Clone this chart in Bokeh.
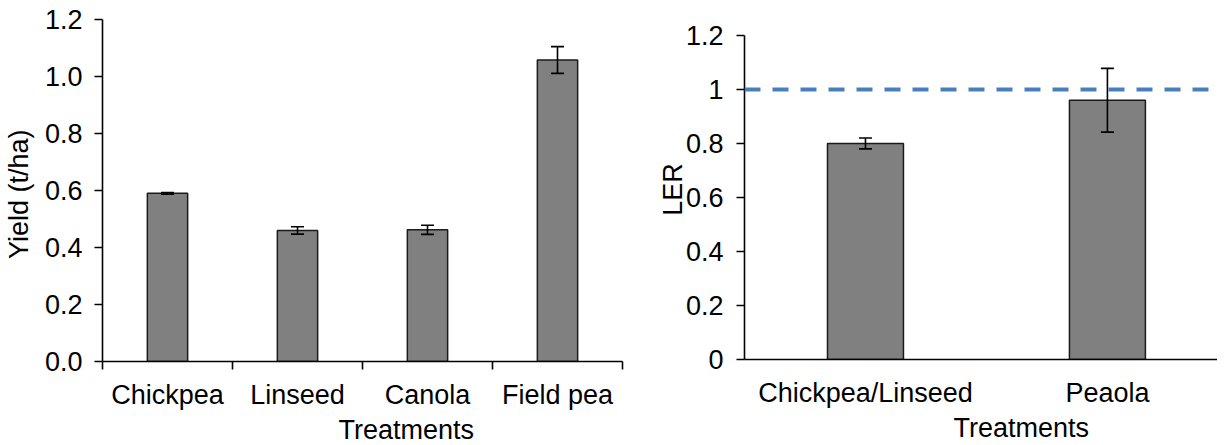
from bokeh.plotting import figure
from bokeh.layouts import row
from bokeh.models import (Range1d, FixedTicker, CustomJSTickFormatter,
                          ColumnDataSource, Whisker, TeeHead, Span)
from bokeh.embed import file_html
from bokeh.resources import INLINE

# ---------------- data ----------------
yield_cats = ["Chickpea", "Linseed", "Canola", "Field pea"]
yield_vals = [0.59, 0.46, 0.462, 1.058]
yield_err = [0.003, 0.013, 0.016, 0.047]

ler_cats = ["Chickpea/Linseed", "Peaola"]
ler_vals = [0.80, 0.96]
ler_err = [0.02, 0.118]
ler_reference = 1.0

y_ticks = [0.0, 0.2, 0.4, 0.6, 0.8, 1.0, 1.2]
x_title = "Treatments"
yield_ylabel = "Yield  (t/ha)"
ler_ylabel = "LER"

FONT = "Liberation Sans"
FS = "27px"
BAR_FILL = "#808080"
BAR_LINE = "#1a1a1a"
DASH_COLOR = "#4a7ebb"


def make_panel(cats, vals, errs, ylabel, frame_w, frame_h, border_left, border_right,
               x_end, y_end, title_offset, bar_width, cat_ticks, fmt_code,
               ylabel_standoff, ytick_standoff, xtick_standoff):
    n = len(cats)
    p = figure(frame_width=frame_w, frame_height=frame_h,
               x_range=Range1d(0, x_end), y_range=Range1d(0, y_end),
               title=x_title, title_location="below",
               output_backend="svg", toolbar_location=None,
               min_border_left=border_left, min_border_top=19,
               min_border_right=border_right, min_border_bottom=0)
    p.xgrid.visible = False
    p.ygrid.visible = False
    p.outline_line_color = None
    p.background_fill_color = "white"
    p.border_fill_color = "white"

    xs = [i + 0.5 for i in range(n)]
    src = ColumnDataSource(dict(
        x=xs, top=vals,
        upper=[v + e for v, e in zip(vals, errs)],
        lower=[v - e for v, e in zip(vals, errs)],
    ))
    p.vbar(x="x", top="top", width=bar_width, source=src,
           fill_color=BAR_FILL, line_color=BAR_LINE, line_width=1.5)

    w = Whisker(base="x", upper="upper", lower="lower", source=src,
                line_color="black", line_width=1.6, level="annotation",
                upper_head=TeeHead(size=13, line_color="black", line_width=1.6),
                lower_head=TeeHead(size=13, line_color="black", line_width=1.6))
    p.add_layout(w)

    # x axis
    xa = p.xaxis[0]
    xa.ticker = FixedTicker(ticks=xs, minor_ticks=list(range(n + 1)) if cat_ticks else [])
    xa.formatter = CustomJSTickFormatter(args=dict(labels=cats), code="""
        const i = Math.floor(tick);
        return (i >= 0 && i < labels.length) ? labels[i] : '';
    """)
    xa.major_tick_out = 0
    xa.major_tick_in = 0
    xa.minor_tick_out = 8 if cat_ticks else 0
    xa.minor_tick_in = 0
    xa.minor_tick_line_color = "black"
    xa.minor_tick_line_width = 1.6
    xa.axis_line_color = "black"
    xa.axis_line_width = 1.6
    xa.major_label_standoff = xtick_standoff
    xa.major_label_text_font = FONT
    xa.major_label_text_font_size = FS
    xa.major_label_text_color = "black"

    # y axis
    ya = p.yaxis[0]
    ya.ticker = FixedTicker(ticks=y_ticks)
    ya.formatter = CustomJSTickFormatter(code=fmt_code)
    ya.bounds = (0, 1.2)
    ya.major_tick_out = 8
    ya.major_tick_in = 0
    ya.minor_tick_out = 0
    ya.minor_tick_in = 0
    ya.major_tick_line_color = "black"
    ya.major_tick_line_width = 1.6
    ya.axis_line_color = "black"
    ya.axis_line_width = 1.6
    ya.major_label_standoff = ytick_standoff
    ya.major_label_text_font = FONT
    ya.major_label_text_font_size = FS
    ya.major_label_text_color = "black"
    ya.axis_label = ylabel
    ya.axis_label_text_font = FONT
    ya.axis_label_text_font_size = FS
    ya.axis_label_text_font_style = "normal"
    ya.axis_label_text_color = "black"
    ya.axis_label_standoff = ylabel_standoff

    # title used as the x-axis caption
    p.title.align = "left"
    p.title.offset = title_offset
    p.title.standoff = 0
    p.title.text_font = FONT
    p.title.text_font_size = FS
    p.title.text_font_style = "normal"
    p.title.text_color = "black"
    return p


p1 = make_panel(yield_cats, yield_vals, yield_err, yield_ylabel,
                frame_w=520, frame_h=342, border_left=96, border_right=22,
                x_end=len(yield_cats), y_end=1.2, title_offset=236, bar_width=0.31,
                cat_ticks=True, fmt_code="return tick.toFixed(1);",
                ylabel_standoff=8, ytick_standoff=12, xtick_standoff=10)

p2 = make_panel(ler_cats, ler_vals, ler_err, ler_ylabel,
                frame_w=473, frame_h=340, border_left=100, border_right=0,
                x_end=1.955, y_end=1.259, title_offset=209, bar_width=0.314,
                cat_ticks=False, fmt_code="return String(Math.round(tick * 10) / 10);",
                ylabel_standoff=-5, ytick_standoff=13, xtick_standoff=18)

p2.add_layout(Span(location=ler_reference, dimension="width", line_color=DASH_COLOR,
                   line_width=4, line_dash="16 12"))

layout = row(p1, p2)
open("out.html", "w").write(file_html(layout, INLINE))
